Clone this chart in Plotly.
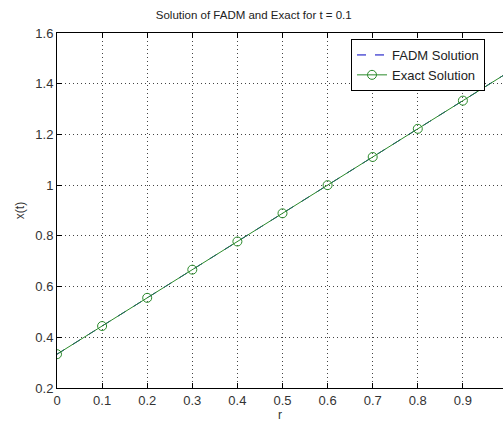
import plotly.graph_objects as go

r = [0, 0.1, 0.2, 0.3, 0.4, 0.5, 0.6, 0.7, 0.8, 0.9, 1.0]
fadm = [0.3333, 0.4444, 0.5556, 0.6667, 0.7778, 0.8889, 1.0, 1.1111, 1.2222, 1.3333, 1.4444]
exact = [0.3333, 0.4444, 0.5556, 0.6667, 0.7778, 0.8889, 1.0, 1.1111, 1.2222, 1.3333, 1.4444]
xticks = [0, 0.1, 0.2, 0.3, 0.4, 0.5, 0.6, 0.7, 0.8, 0.9]
yticks = [0.2, 0.4, 0.6, 0.8, 1.0, 1.2, 1.4, 1.6]

font = "Liberation Sans, Arial, sans-serif"
fig = go.Figure()
fig.add_trace(go.Scatter(x=r, y=fadm, mode="lines", name="FADM Solution",
                         line=dict(color="#0000c0", width=1, dash="dash")))
fig.add_trace(go.Scatter(x=r, y=exact, mode="lines+markers", name="Exact Solution",
                         line=dict(color="#2a8a2a", width=1),
                         marker=dict(symbol="circle-open", size=9, color="#2a8a2a", line=dict(width=1))))
# invisible trace to create top axis
fig.add_trace(go.Scatter(x=[0], y=[0.2], xaxis="x2", showlegend=False, hoverinfo="skip",
                         mode="markers", marker=dict(opacity=0)))

W, H = 503, 422
L, T, B = 57, 33, 34
pw = W - L
xmax = pw / 451.0

axcommon = dict(showline=True, linecolor="black", linewidth=1, ticks="inside", ticklen=5,
                tickcolor="black", tickfont=dict(family=font, size=13, color="#333"), zeroline=False)
grid = dict(showgrid=True, gridcolor="#444", griddash="1px,3px", gridwidth=1)
fig.update_layout(
    width=W, height=H,
    margin=dict(l=L, r=0, t=T, b=B),
    paper_bgcolor="white", plot_bgcolor="white",
    title=dict(text="Solution of FADM and Exact for t = 0.1", x=(282 - L) / pw, xanchor="center",
               y=1 - 15 / H, yanchor="middle", font=dict(family=font, size=11.5, color="#222")),
    xaxis=dict(range=[0, xmax], tickvals=xticks, ticktext=[("%g" % v) for v in xticks],
               title=dict(text="r", font=dict(family=font, size=12, color="#333"), standoff=2),
               **grid, **axcommon),
    xaxis2=dict(overlaying="x", side="top", matches="x", range=[0, xmax], tickvals=xticks,
                showticklabels=False, showgrid=False, showline=True, linecolor="black",
                ticks="inside", ticklen=5, tickcolor="black", zeroline=False),
    yaxis=dict(range=[0.2, 1.6], tickvals=yticks, ticktext=[("%g" % v) for v in yticks],
               title=dict(text="x(t)", font=dict(family=font, size=12, color="#333"), standoff=8),
               **grid, **axcommon),
    legend=dict(x=(351 - L) / pw, y=1 - 6 / (H - T - B), xanchor="left", yanchor="top",
                bordercolor="black", borderwidth=1, bgcolor="white",
                font=dict(family=font, size=13, color="#222"), tracegroupgap=0),
    showlegend=True,
)
fig.write_html("out.html")
